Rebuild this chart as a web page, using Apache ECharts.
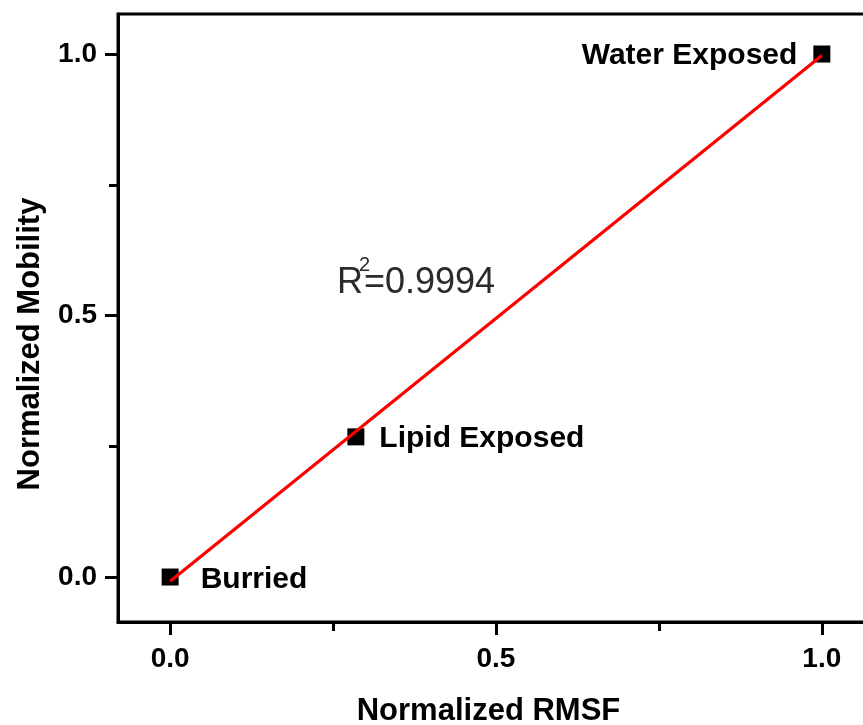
<!DOCTYPE html>
<html>
<head>
<meta charset="utf-8">
<script src="https://cdn.jsdelivr.net/npm/echarts@6/dist/echarts.min.js"></script>
<style>
  html, body { margin: 0; padding: 0; background: #fff; }
  #chart { width: 863px; height: 725px; }
</style>
</head>
<body>
<div id="chart"></div>
<script>
// Normalized RMSF vs. normalized mobility for three residue classes
const categories = ['Burried', 'Lipid Exposed', 'Water Exposed'];
const rmsf = [0, 0.285, 1];
const mobility = [0, 0.268, 1];

// Linear fit drawn as a red line (end points of the fitted line)
const fitX = [0, 1];
const fitY = [-0.008, 0.997];
const rSquared = '0.9994';

// Axis ticks
const majorTicks = [0, 0.5, 1];
const tickLabels = ['0.0', '0.5', '1.0'];
const minorTicks = [0.25, 0.75];

const labelPos = ['right', 'right', 'left'];
const labelDist = [22, 15, 16];
const labelOffset = [[0, 3], [0, 2], [0, 2]];

const FONT = 'Liberation Sans, Arial, Helvetica, sans-serif';

const chart = echarts.init(document.getElementById('chart'), null, { renderer: 'canvas' });

function labelFor(v) {
  const i = majorTicks.indexOf(v);
  return i >= 0 ? tickLabels[i] : '';
}

const tickStyle = { color: '#000', width: 3 };
const X_RANGE = { min: -0.08, max: 1.1 };
const Y_RANGE = { min: -0.086, max: 1.0765 };

const option = {
  backgroundColor: '#fff',
  animation: false,
  grid: {
    left: 118, top: 14, width: 769, height: 608,
    show: true, borderColor: '#000', borderWidth: 3,
    outerBoundsMode: 'none', containLabel: false
  },
  xAxis: [
    {
      type: 'value', position: 'bottom', min: X_RANGE.min, max: X_RANGE.max,
      splitLine: { show: false },
      axisLine: { show: true, onZero: false, lineStyle: { color: '#000', width: 3 } },
      name: 'Normalized RMSF', nameLocation: 'middle', nameGap: 74,
      nameTextStyle: {
        fontFamily: FONT, fontWeight: 'bold', fontSize: 31, color: '#000',
        padding: [0, 28, 0, 0]
      },
      axisTick: { show: true, inside: false, customValues: majorTicks, length: 13, lineStyle: tickStyle },
      axisLabel: {
        show: true, customValues: majorTicks, margin: 23, formatter: labelFor,
        fontFamily: FONT, fontWeight: 'bold', fontSize: 28, color: '#000'
      }
    },
    {
      type: 'value', position: 'bottom', min: X_RANGE.min, max: X_RANGE.max,
      splitLine: { show: false },
      axisLine: { show: false, onZero: false },
      axisTick: { show: true, inside: false, customValues: minorTicks, length: 9, lineStyle: tickStyle },
      axisLabel: { show: false }
    }
  ],
  yAxis: [
    {
      type: 'value', position: 'left', min: Y_RANGE.min, max: Y_RANGE.max,
      splitLine: { show: false },
      axisLine: { show: true, onZero: false, lineStyle: { color: '#000', width: 3 } },
      name: 'Normalized Mobility', nameLocation: 'middle', nameGap: 72,
      nameTextStyle: {
        fontFamily: FONT, fontWeight: 'bold', fontSize: 31, color: '#000',
        padding: [0, 52, 0, 0]
      },
      axisTick: { show: true, inside: false, customValues: majorTicks, length: 13, lineStyle: tickStyle },
      axisLabel: {
        show: true, customValues: majorTicks, margin: 21, formatter: labelFor,
        fontFamily: FONT, fontWeight: 'bold', fontSize: 28, color: '#000'
      }
    },
    {
      type: 'value', position: 'left', min: Y_RANGE.min, max: Y_RANGE.max,
      splitLine: { show: false },
      axisLine: { show: false, onZero: false },
      axisTick: { show: true, inside: false, customValues: minorTicks, length: 9, lineStyle: tickStyle },
      axisLabel: { show: false }
    }
  ],
  series: [
    {
      type: 'scatter',
      xAxisIndex: 0, yAxisIndex: 0,
      symbol: 'rect', symbolSize: 17,
      itemStyle: { color: '#000', opacity: 1 },
      z: 2,
      data: categories.map((c, i) => ({
        name: c,
        value: [rmsf[i], mobility[i]],
        label: {
          show: true, position: labelPos[i], distance: labelDist[i], offset: labelOffset[i],
          formatter: c, fontFamily: FONT, fontWeight: 'bold', fontSize: 30,
          color: '#000', opacity: 1
        }
      }))
    },
    {
      type: 'line',
      xAxisIndex: 0, yAxisIndex: 0,
      showSymbol: false, symbol: 'none',
      lineStyle: { color: '#ff0000', width: 3.2 },
      z: 3,
      data: fitX.map((x, i) => [x, fitY[i]])
    }
  ],
  graphic: [
    {
      type: 'group', left: 337, top: 255,
      children: [
        { type: 'text', x: 0, y: 8, style: { text: 'R', font: '36px ' + FONT, fill: '#2b2b2b' } },
        { type: 'text', x: 27, y: 8, style: { text: '=' + rSquared, font: '36px ' + FONT, fill: '#2b2b2b' } },
        { type: 'text', x: 22, y: -2, style: { text: '2', font: '20px ' + FONT, fill: '#2b2b2b' } }
      ]
    }
  ]
};

chart.setOption(option);
</script>
</body>
</html>
